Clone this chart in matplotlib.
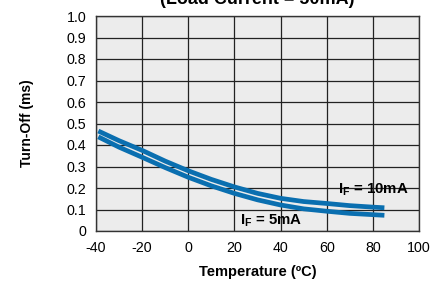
import matplotlib
matplotlib.use("Agg")
import matplotlib.pyplot as plt

plt.rcParams['font.family'] = ['Liberation Sans', 'DejaVu Sans']
plt.rcParams['mathtext.fontset'] = 'custom'
plt.rcParams['mathtext.rm'] = 'Liberation Sans'
plt.rcParams['mathtext.bf'] = 'Liberation Sans:bold'
plt.rcParams['axes.unicode_minus'] = False

temps = [-39, -30, -20, -10, 0, 10, 20, 30, 40, 50, 60, 70, 80, 85]
turnoff_10mA = [0.465, 0.42, 0.375, 0.325, 0.28, 0.24, 0.205, 0.175, 0.152, 0.137, 0.128, 0.118, 0.111, 0.108]
turnoff_5mA = [0.438, 0.39, 0.343, 0.295, 0.25, 0.21, 0.175, 0.145, 0.121, 0.103, 0.092, 0.082, 0.076, 0.073]
xticks = [-40, -20, 0, 20, 40, 60, 80, 100]
yticks = [0, 0.1, 0.2, 0.3, 0.4, 0.5, 0.6, 0.7, 0.8, 0.9, 1.0]
ytick_labels = ['0', '0.1', '0.2', '0.3', '0.4', '0.5', '0.6', '0.7', '0.8', '0.9', '1.0']

fig = plt.figure(figsize=(4.45, 2.81), dpi=100)
ax = fig.add_axes([96/445, 50/281, 323/445, 215/281])
ax.set_facecolor('#ececec')
blue = '#0a6fb0'
ax.plot(temps, turnoff_10mA, color=blue, lw=3.4, solid_capstyle='butt')
ax.plot(temps, turnoff_5mA, color=blue, lw=3.4, solid_capstyle='butt')

ax.set_xlim(-40, 100)
ax.set_ylim(0, 1.0)
ax.set_xticks(xticks)
ax.set_yticks(yticks)
ax.set_yticklabels(ytick_labels)
ax.grid(True, color='#222222', lw=0.9)
ax.set_axisbelow(True)
for s in ax.spines.values():
    s.set_color('#333333')
    s.set_linewidth(1.0)
ax.tick_params(axis='x', length=0, labelsize=10.3, pad=7.5, colors='black')
ax.tick_params(axis='y', length=0, labelsize=10.3, pad=7, colors='black')

fig.text(257.5/445, (281-272)/281, 'Temperature (ºC)', fontsize=10.5, fontweight='bold',
         ha='center', va='center')
fig.text(27/445, 1 - 123.5/281, 'Turn-Off (ms)', fontsize=10, fontweight='bold',
         ha='center', va='center', rotation=90)
fig.text(257.5/445, 1 - 4/281, '(Load Current = 50mA)', fontsize=13, fontweight='bold',
         ha='center', va='baseline')

ax.text(65, 0.19, r'$\mathbf{I_F}$ = 10mA', fontsize=10.8, fontweight='bold', va='center', ha='left')
ax.text(22.5, 0.046, r'$\mathbf{I_F}$ = 5mA', fontsize=10.8, fontweight='bold', va='center', ha='left')

fig.savefig('out.png', dpi=100)
